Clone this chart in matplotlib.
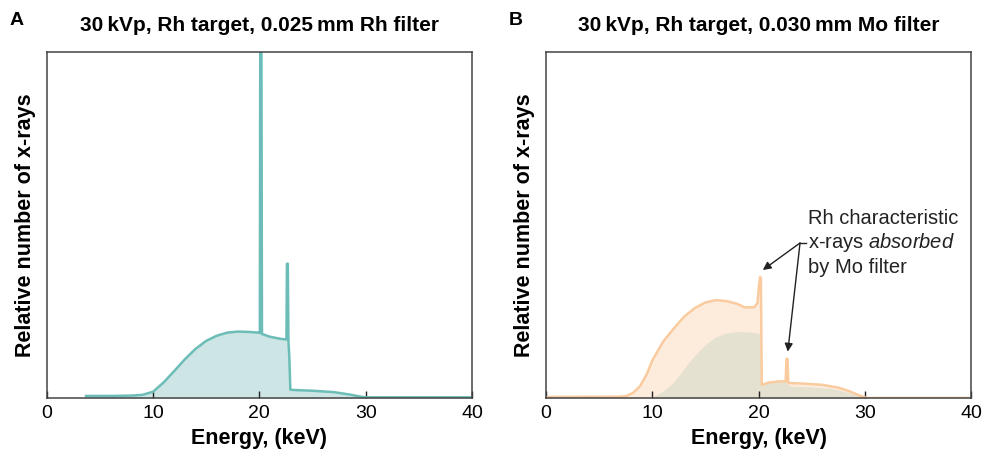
import matplotlib.pyplot as plt

plt.rcParams['font.family'] = ['Liberation Sans', 'DejaVu Sans']
plt.rcParams['mathtext.fontset'] = 'custom'
plt.rcParams['mathtext.rm'] = 'Liberation Sans'
plt.rcParams['mathtext.it'] = 'Liberation Sans:italic'

# Panel A: Rh target, 0.025 mm Rh filter
energy_a = [3.7, 6, 8, 9, 10, 11, 12, 13, 14, 15, 16, 17, 18, 19, 19.9, 20.05,
            20.1, 20.18, 20.25, 21, 22, 22.55, 22.6, 22.68, 22.74, 22.82, 22.92,
            23.3, 25, 27, 28.5, 29.5, 30, 35, 40]
counts_a = [0.6, 0.6, 0.7, 0.9, 1.8, 4.5, 7.8, 11.2, 14.2, 16.5, 18.0, 18.9, 19.2,
            19.1, 18.9, 18.8, 130, 130, 18.5, 17.7, 17.1, 16.9, 38.8, 38.8, 16.4,
            12.0, 2.4, 2.3, 2.1, 1.7, 1.0, 0.4, 0.2, 0.2, 0.2]

# Panel B: Rh target, 0.030 mm Mo filter (outer) and Rh filter spectrum (inner)
energy_b = [0, 7, 7.6, 8.2, 8.85, 9.5, 10, 11, 12, 13, 14, 15, 16, 17, 18, 18.7,
            19.6, 19.9, 20.05, 20.15, 20.22, 20.3, 21, 22, 22.55, 22.62, 22.72,
            22.8, 23, 24, 26, 27.5, 28.5, 29.5, 30.2, 40]
counts_b = [0.3, 0.4, 0.6, 1.5, 3.4, 7.0, 10.8, 16.2, 20.0, 23.5, 26.0, 27.6, 28.3,
            28.0, 27.2, 26.2, 26.2, 27.5, 33.0, 35.0, 34.5, 3.8, 4.5, 4.8, 4.8,
            11.3, 11.3, 4.4, 4.3, 4.2, 3.8, 3.0, 2.0, 0.7, 0.0, 0.0]

energy_b2 = [9.8, 10.5, 11, 12, 13, 14, 15, 16, 17, 18, 19, 19.9, 20.1, 20.25, 21,
             22, 22.6, 22.65, 22.75, 22.8, 23, 25, 27, 28.5, 29.5, 30]
counts_b2 = [0.0, 1.0, 2.0, 4.5, 8.5, 12.3, 15.5, 17.7, 18.8, 19.2, 19.1, 18.8,
             18.5, 3.6, 4.4, 4.6, 4.7, 11.3, 11.3, 4.0, 3.4, 3.2, 2.7, 1.5, 0.5, 0.0]

xticks = [0, 10, 20, 30, 40]
titles = ['30\u2009kVp, Rh target, 0.025\u2009mm Rh filter',
          '30\u2009kVp, Rh target, 0.030\u2009mm Mo filter']
panel_labels = ['A', 'B']

teal_line = '#6cbdb7'
teal_fill = '#cde6e5'
orange_line = '#f9cb9f'
orange_fill = '#fdecdc'
olive_fill = '#e4e1d1'

fig = plt.figure(figsize=(9.89, 4.58), dpi=100)
ax_a = fig.add_axes([0.0472, 0.131, 0.430, 0.7555])
ax_b = fig.add_axes([0.552, 0.131, 0.430, 0.7555])

ax_a.fill_between(energy_a, counts_a, color=teal_fill, lw=0)
ax_a.plot(energy_a, counts_a, color=teal_line, lw=1.8)

ax_b.fill_between(energy_b, counts_b, color=orange_fill, lw=0)
ax_b.plot(energy_b, counts_b, color=orange_line, lw=1.8)
ax_b.fill_between(energy_b2, counts_b2, color=olive_fill, lw=0)

for ax, title, lab in zip([ax_a, ax_b], titles, panel_labels):
    ax.set_xlim(0, 40)
    ax.set_ylim(0, 100)
    ax.set_xticks(xticks)
    ax.set_yticks([])
    ax.tick_params(axis='x', direction='in', length=5, width=1, color='#222222',
                   labelsize=14, pad=5)
    for s in ax.spines.values():
        s.set_color('#444444')
        s.set_linewidth(1.1)
    ax.set_xlabel('Energy, (keV)', fontsize=15.5, fontweight='bold', labelpad=4)
    ax.set_ylabel('Relative number of x-rays', fontsize=15.5, fontweight='bold',
                  labelpad=8)
    ax.set_title(title, fontsize=15, fontweight='bold', pad=15)
    ax.text(-0.088, 1.09, lab, transform=ax.transAxes, fontsize=14,
            fontweight='bold', ha='left', va='center')

# annotation in panel B
ann_kw = dict(fontsize=14.5, va='center', color='#222222')
ax_b.text(24.65, 52, 'Rh characteristic', **ann_kw)
ax_b.text(24.65, 44.8, r'x-rays $\mathit{absorbed}$', **ann_kw)
ax_b.text(24.65, 37.6, 'by Mo filter', **ann_kw)
ax_b.plot([23.9, 24.5], [44.8, 44.8], color='#222222', lw=1)
for tx, ty in [(20.4, 37.0), (22.75, 13.4)]:
    ax_b.annotate('', xy=(tx, ty), xytext=(23.9, 44.8),
                  arrowprops=dict(arrowstyle='-|>', color='#222222', lw=1,
                                  mutation_scale=12, shrinkA=0, shrinkB=0))

fig.savefig('out.png', dpi=100)
